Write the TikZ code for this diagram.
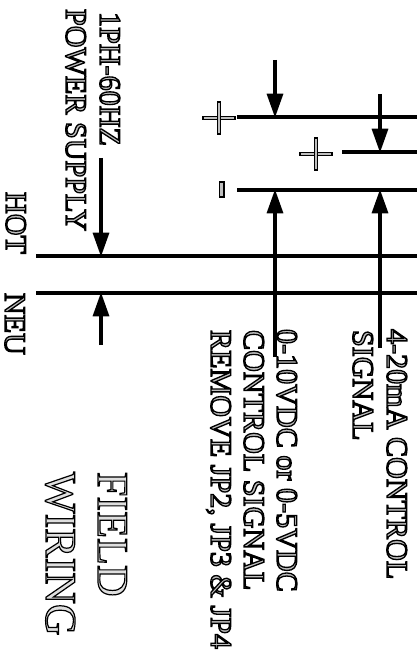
\documentclass[tikz,border=0pt]{standalone}
\usepackage{fontspec}
\usetikzlibrary{arrows.meta}
\setmainfont{Liberation Serif}
\newcommand{\outl}[1]{\special{pdf:code 2 Tr 1.0 w 0 0 0 RG}#1\special{pdf:code 0 Tr}}
\newcommand{\outlb}[1]{\special{pdf:code 2 Tr 0.9 w 0 0 0 RG}#1\special{pdf:code 0 Tr}}
\tikzset{
  x=0.75pt,y=-0.75pt,
  wire/.style={line width=2.4pt,black},
  thin wire/.style={line width=2.3pt,black},
  feed/.style={line width=2.4pt,black,-{Triangle[length=18pt,width=12pt]},shorten >=-0.5pt},
  lab/.style={rotate=-90,anchor=base west,inner sep=0pt,outer sep=0pt,text=gray!50,font=\fontsize{22.6pt}{24pt}\selectfont},
  big/.style={lab,text=gray!25,font=\fontsize{33pt}{36pt}\selectfont},
  markbar/.style={draw=black,line width=1pt,fill=gray!50},
}
\begin{document}
\begin{tikzpicture}
\useasboundingbox (0,0) rectangle (417,655);
% wires
\coordinate (pa) at (237,117); \coordinate (pb) at (417,117);
\coordinate (qa) at (342,152); \coordinate (qb) at (417,152);
\coordinate (ma) at (237,190); \coordinate (mb) at (417,190);
\coordinate (ha) at (36,256);  \coordinate (hb) at (417,256);
\coordinate (na) at (36,293);  \coordinate (nb) at (417,293);
\draw[wire] (pa) -- (pb);
\draw[thin wire] (qa) -- (qb);
\draw[wire] (ma) -- (mb);
\draw[wire] (ha) -- (hb);
\draw[wire] (na) -- (nb);
% arrows
\coordinate (a1s) at (275,60);  \coordinate (a1e) at (275,117);
\coordinate (a2s) at (380,94);  \coordinate (a2e) at (380,152);
\coordinate (a3s) at (275,357); \coordinate (a3e) at (275,190);
\coordinate (a4s) at (380,348); \coordinate (a4e) at (380,190);
\coordinate (a5s) at (101,158); \coordinate (a5e) at (101,256);
\coordinate (a6s) at (101,345); \coordinate (a6e) at (101,293);
\draw[feed] (a1s) -- (a1e);
\draw[feed] (a2s) -- (a2e);
\draw[feed] (a3s) -- (a3e);
\draw[feed] (a4s) -- (a4e);
\draw[feed] (a5s) -- (a5e);
\draw[feed] (a6s) -- (a6e);
% polarity marks (outlined)
\foreach \cx/\cy in {219/118,316/154}{
  \draw[markbar] (\cx-16,\cy-1.6) rectangle (\cx+16,\cy+1.6);
  \draw[markbar] (\cx-1.6,\cy-16) rectangle (\cx+1.6,\cy+16);
  \fill[gray!50] (\cx-1,\cy-1) rectangle (\cx+1,\cy+1);
}
\draw[markbar] (219.5,182) rectangle (224,197);
% labels
\node[lab] (ps) at (66,9)   {\outl{POWER SUPPLY}};
\node[lab] (ph) at (100,12) {\outl{1PH-60HZ}};
\node[lab] (hot) at (6,192) {\outl{HOT}};
\node[lab] (neu) at (5,293) {\outl{NEU}};
\node[lab] (c4) at (387,329){\outl{4-20mA CONTROL}};
\node[lab] (c4b) at (353,330){\outl{SIGNAL}};
\node[lab] (v1) at (277,329){\outl{0-10VDC or 0-5VDC}};
\node[lab] (v2) at (244,330){\outl{CONTROL SIGNAL}};
\node[lab] (v3) at (211,330){\outl{REMOVE JP2, JP3 \& JP4}};
\node[big] (f1) at (98,472) {\outlb{FIELD}};
\node[big] (f2) at (46,472) {\outlb{WIRING}};
\end{tikzpicture}
\end{document}
